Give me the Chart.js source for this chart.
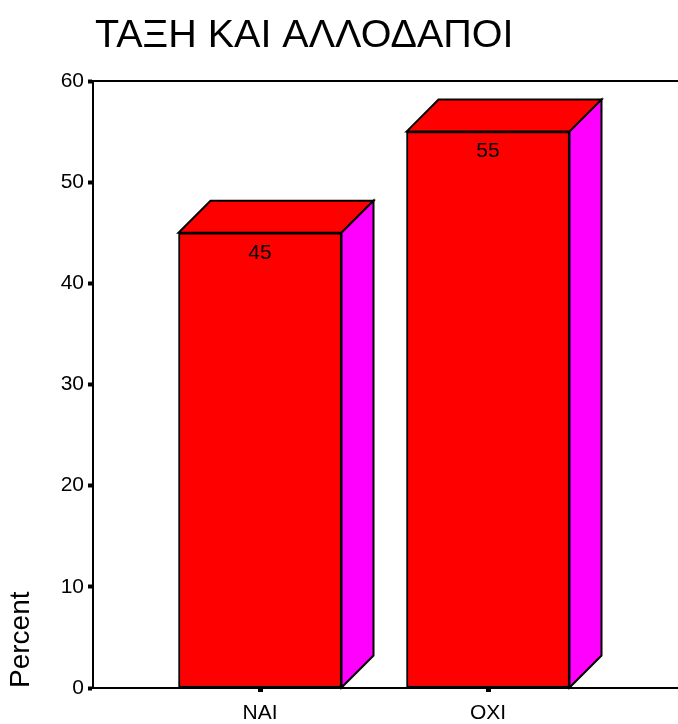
<!DOCTYPE html>
<html>
<head>
<meta charset="utf-8">
<script src="https://cdn.jsdelivr.net/npm/chart.js@4"></script>
<style>
  body { margin: 0; background: #fff; }
  #wrap { width: 678px; height: 724px; position: relative; }
</style>
</head>
<body>
<div id="wrap"><canvas id="chart"></canvas></div>
<script>
// chart data
const chartTitle = 'ΤΑΞΗ ΚΑΙ ΑΛΛΟΔΑΠΟΙ';
const categories = ['NAI', 'OXI'];
const percents = [45, 55];
const yTicks = [0, 10, 20, 30, 40, 50, 60];

const FONT = '"Liberation Sans", Arial, sans-serif';
const DEPTH = 32; // size of the 3d offset in px

// draws title, top frame line, 3d faces and value labels
const boxPlugin = {
  id: 'box3d',
  afterDatasetsDraw(chart) {
    const ctx = chart.ctx;
    const area = chart.chartArea;
    const meta = chart.getDatasetMeta(0);

    meta.data.forEach((bar, i) => {
      const p = bar.getProps(['x', 'y', 'base', 'width'], true);
      const l = p.x - p.width / 2, r = p.x + p.width / 2;
      ctx.save();
      ctx.lineWidth = 2;
      ctx.strokeStyle = '#000';
      ctx.lineJoin = 'miter';
      // top face
      ctx.beginPath();
      ctx.moveTo(l, p.y);
      ctx.lineTo(l + DEPTH, p.y - DEPTH);
      ctx.lineTo(r + DEPTH, p.y - DEPTH);
      ctx.lineTo(r, p.y);
      ctx.closePath();
      ctx.fillStyle = '#ff0000';
      ctx.fill();
      ctx.stroke();
      // side face
      ctx.beginPath();
      ctx.moveTo(r, p.y);
      ctx.lineTo(r + DEPTH, p.y - DEPTH);
      ctx.lineTo(r + DEPTH, p.base - DEPTH);
      ctx.lineTo(r, p.base);
      ctx.closePath();
      ctx.fillStyle = '#ff00ff';
      ctx.fill();
      ctx.stroke();
      // value label
      ctx.fillStyle = '#000';
      ctx.font = '21px ' + FONT;
      ctx.textAlign = 'center';
      ctx.textBaseline = 'middle';
      ctx.fillText(String(percents[i]), p.x, p.y + 20);
      ctx.restore();
    });

    // top frame line
    ctx.save();
    ctx.strokeStyle = '#000';
    ctx.lineWidth = 2;
    ctx.beginPath();
    ctx.moveTo(area.left, area.top);
    ctx.lineTo(area.right, area.top);
    ctx.stroke();

    // title
    ctx.fillStyle = '#000';
    ctx.font = '39.5px ' + FONT;
    ctx.textAlign = 'left';
    ctx.textBaseline = 'alphabetic';
    ctx.fillText(chartTitle, area.left + 2, 47);
    ctx.restore();
  }
};

new Chart(document.getElementById('chart'), {
  type: 'bar',
  data: {
    datasets: [{
      data: percents.map((v, i) => ({ x: i + 1, y: v })),
      backgroundColor: '#ff0000',
      borderColor: '#000',
      borderWidth: 2,
      borderSkipped: false,
      barThickness: 163
    }]
  },
  options: {
    responsive: true,
    maintainAspectRatio: false,
    animation: false,
    layout: { padding: { top: 81, right: 0, bottom: 0, left: 0 } },
    plugins: {
      legend: { display: false },
      tooltip: { enabled: false }
    },
    scales: {
      x: {
        type: 'linear',
        offset: false,
        min: 0.2675,
        max: 2.8333,
        afterBuildTicks(scale) {
          scale.ticks = categories.map((c, i) => ({ value: i + 1 }));
        },
        afterFit(scale) { scale.height = 36; },
        ticks: {
          callback: (v) => categories[v - 1],
          color: '#000',
          font: { family: FONT, size: 21 },
          padding: 9,
          maxRotation: 0
        },
        grid: {
          offset: false,
          drawOnChartArea: false,
          drawTicks: true,
          tickLength: 4,
          tickWidth: 5,
          tickColor: '#000'
        },
        border: { display: true, color: '#000', width: 2 }
      },
      y: {
        min: 0,
        max: 60,
        afterBuildTicks(scale) {
          scale.ticks = yTicks.map(v => ({ value: v }));
        },
        afterFit(scale) { scale.width = 93; },
        ticks: {
          color: '#000',
          font: { family: FONT, size: 21 },
          padding: 4
        },
        grid: {
          drawOnChartArea: false,
          drawTicks: true,
          tickLength: 5,
          tickWidth: 4,
          tickColor: '#000'
        },
        border: { display: true, color: '#000', width: 2 },
        title: {
          display: true,
          text: 'Percent',
          align: 'start',
          color: '#000',
          font: { family: FONT, size: 28 },
          padding: { top: 4, bottom: 0 }
        }
      }
    }
  },
  plugins: [boxPlugin]
});
</script>
</body>
</html>
